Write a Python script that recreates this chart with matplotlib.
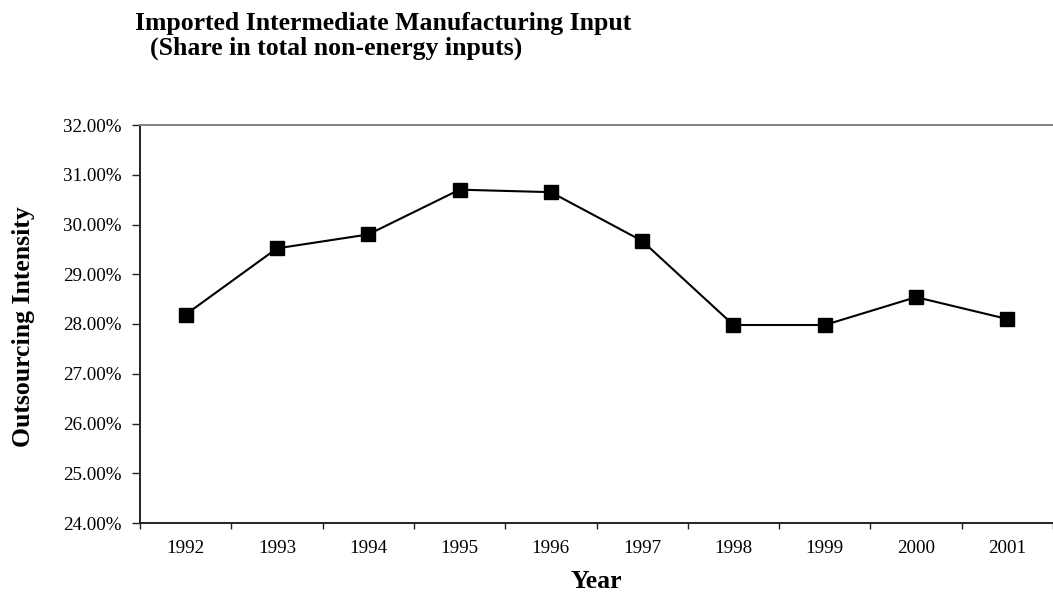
import matplotlib
matplotlib.use("Agg")
import matplotlib.pyplot as plt
from matplotlib.ticker import FuncFormatter, FixedLocator

# Data
years = ["1992", "1993", "1994", "1995", "1996", "1997", "1998", "1999", "2000", "2001"]
intensity = [28.19, 29.52, 29.80, 30.70, 30.65, 29.67, 27.98, 27.98, 28.54, 28.10]
y_ticks = [24, 25, 26, 27, 28, 29, 30, 31, 32]

plt.rcParams["font.family"] = ["Liberation Serif", "DejaVu Serif"]

fig = plt.figure(figsize=(10.53, 6.04), dpi=100)
W, H = 1053, 604
ax = fig.add_axes([140 / W, (H - 523) / H, (1053 - 140) / W, (523 - 125) / H])

x = list(range(len(years)))
ax.plot(x, intensity, color="black", linewidth=1.5, marker="s",
        markersize=9.5, markerfacecolor="black", markeredgecolor="black", clip_on=False)

ax.set_xlim(-0.5, len(years) - 0.5)
ax.set_ylim(y_ticks[0], y_ticks[-1])

# category labels centred, tick marks on the boundaries
ax.set_xticks(x)
ax.set_xticklabels(years, fontsize=13.7)
ax.xaxis.set_minor_locator(FixedLocator([i - 0.5 for i in range(len(years) + 1)]))
ax.tick_params(axis="x", which="major", length=0, pad=12.5)
ax.tick_params(axis="x", which="minor", length=4.3, width=1, direction="out", color="#222222")

ax.set_yticks(y_ticks)
ax.yaxis.set_major_formatter(FuncFormatter(lambda v, p: f"{v:.2f}%"))
ax.tick_params(axis="y", length=5.8, width=1, direction="out", labelsize=13.7, pad=7.2, color="#222222")

for side in ["left", "bottom"]:
    ax.spines[side].set_color("#222222")
    ax.spines[side].set_linewidth(1.4)
ax.spines["top"].set_color("#808080")
ax.spines["top"].set_linewidth(1.4)
ax.spines["right"].set_visible(False)

# axis titles and chart title
fig.text(24 / W, 1 - 327 / H, "Outsourcing Intensity", rotation=90, ha="center", va="center",
         fontsize=18.5, fontweight="bold")
fig.text(596 / W, 1 - 581 / H, "Year", ha="center", va="center", fontsize=18.5, fontweight="bold")
fig.text(135 / W, 1 - 30 / H, "Imported Intermediate Manufacturing Input", ha="left",
         va="baseline", fontsize=18.5, fontweight="bold")
fig.text(150 / W, 1 - 55 / H, "(Share in total non-energy inputs)", ha="left",
         va="baseline", fontsize=18.5, fontweight="bold")

fig.savefig("out.png", dpi=100)
